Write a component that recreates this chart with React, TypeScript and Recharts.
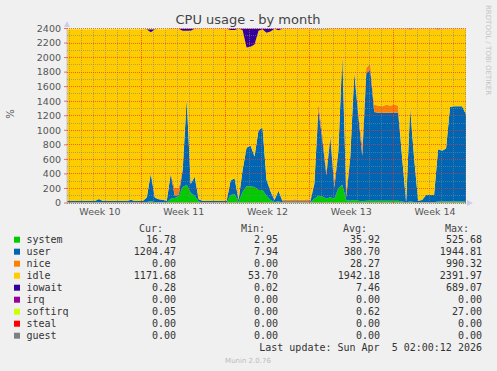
import React from 'react';
import { AreaChart, Area, XAxis, YAxis, ReferenceLine } from 'recharts';

// one sample every 8 hours, 101 samples over the month
const system = [
  8, 8, 8, 8, 8, 8, 8, 8, 10, 8, 8, 8, 8, 8, 8, 8, 8, 8, 8, 8,
  15, 25, 15, 10, 10, 8, 60, 70, 90, 220, 250, 140, 100, 20, 8, 8, 8, 8, 8, 8,
  8, 110, 120, 15, 150, 230, 230, 220, 180, 180, 100, 40, 15, 20, 10, 10, 10, 10, 10, 10,
  10, 10, 60, 100, 90, 60, 80, 60, 200, 250, 40, 30, 40, 30, 25, 30, 30, 30, 30, 30,
  30, 30, 30, 30, 20, 10, 20, 15, 10, 10, 10, 10, 10, 20, 20, 20, 20, 20, 20, 20,
  17,
];
const user = [
  20, 20, 20, 20, 20, 20, 20, 20, 45, 20, 20, 20, 20, 20, 20, 20, 35, 20, 20, 20,
  60, 380, 60, 40, 35, 20, 340, 30, 20, 230, 1180, 120, 260, 30, 20, 20, 20, 20, 20, 20,
  20, 200, 220, 25, 300, 530, 560, 420, 820, 860, 220, 120, 25, 150, 15, 15, 15, 15, 15, 15,
  15, 15, 200, 1180, 780, 320, 820, 150, 500, 1780, 40, 600, 1740, 1180, 620, 1750, 1800, 1220, 1210, 1210,
  1210, 1210, 1210, 1210, 600, 5, 1290, 600, 20, 30, 100, 100, 100, 720, 700, 730, 1300, 1310, 1310, 1310,
  1204,
];
const nice = [
  0, 0, 0, 0, 0, 0, 0, 0, 0, 0, 0, 0, 0, 0, 0, 0, 0, 0, 0, 0,
  0, 0, 0, 0, 0, 0, 10, 110, 100, 30, 10, 5, 0, 0, 0, 0, 0, 0, 0, 0,
  0, 0, 0, 0, 0, 0, 0, 0, 0, 0, 0, 0, 0, 0, 15, 20, 15, 25, 20, 15,
  25, 20, 20, 100, 100, 60, 40, 100, 20, 20, 100, 30, 30, 60, 150, 80, 90, 100, 100, 90,
  110, 100, 110, 100, 0, 0, 0, 0, 0, 0, 0, 0, 0, 0, 0, 0, 0, 0, 0, 0,
  0,
];
const idle = [
  2360, 2360, 2360, 2360, 2360, 2360, 2360, 2360, 2333, 2360, 2360, 2360, 2360, 2360, 2360, 2360, 2345, 2360, 2360, 2360,
  2310, 1945, 2310, 2338, 2343, 2360, 1985, 2185, 2185, 1890, 930, 2105, 2035, 2348, 2370, 2370, 2370, 2370, 2370, 2370,
  2370, 2070, 2040, 2358, 1930, 1380, 1360, 1540, 1370, 1350, 2020, 2200, 2355, 2205, 2358, 2353, 2358, 2348, 2353, 2358,
  2348, 2353, 2105, 1005, 1415, 1945, 1455, 2085, 1675, 345, 2215, 1735, 585, 1125, 1600, 535, 475, 1045, 1055, 1065,
  1045, 1055, 1045, 1055, 1775, 2383, 1080, 1780, 2368, 2358, 2288, 2288, 2288, 1650, 1678, 1648, 1078, 1068, 1068, 1068,
  1172,
];
const iowait = [
  2, 2, 2, 2, 2, 2, 2, 2, 2, 2, 2, 2, 2, 2, 2, 2, 2, 2, 2, 2,
  5, 40, 5, 2, 2, 2, 5, 5, 5, 30, 30, 30, 5, 2, 2, 2, 2, 2, 2, 2,
  2, 20, 20, 2, 20, 260, 250, 220, 30, 10, 60, 40, 5, 25, 2, 2, 2, 2, 2, 2,
  2, 2, 5, 5, 5, 5, 5, 5, 5, 5, 5, 5, 5, 5, 5, 5, 5, 5, 5, 5,
  5, 5, 5, 5, 5, 2, 10, 5, 2, 2, 2, 2, 2, 10, 2, 2, 2, 2, 2, 2,
  0,
];
const softirq = [
  10, 10, 10, 10, 10, 10, 10, 10, 10, 10, 10, 10, 10, 10, 10, 10, 10, 10, 10, 10,
  10, 10, 10, 10, 10, 10, 0, 0, 0, 0, 0, 0, 0, 0, 0, 0, 0, 0, 0, 0,
  0, 0, 0, 0, 0, 0, 0, 0, 0, 0, 0, 0, 0, 0, 0, 0, 0, 0, 0, 0,
  0, 0, 10, 10, 10, 10, 0, 0, 0, 0, 0, 0, 0, 0, 0, 0, 0, 0, 0, 0,
  0, 0, 0, 0, 0, 0, 0, 0, 0, 0, 0, 0, 0, 0, 0, 0, 0, 0, 0, 0,
  0,
];

const weekTicks = [8.25, 29.25, 50.25, 71.25, 92.25];
const weekLabels = ['Week 10', 'Week 11', 'Week 12', 'Week 13', 'Week 14'];
const weekLines = [18.75, 39.75, 60.75, 81.75];
const dayLines = [
  0.75, 3.75, 6.75, 9.75, 12.75, 15.75, 21.75, 24.75, 27.75, 30.75, 33.75, 36.75,
  42.75, 45.75, 48.75, 51.75, 54.75, 57.75, 63.75, 66.75, 69.75, 72.75, 75.75, 78.75,
  84.75, 87.75, 90.75, 93.75, 96.75, 99.75,
];
const yTicks = [0, 200, 400, 600, 800, 1000, 1200, 1400, 1600, 1800, 2000, 2200, 2400];
const yMinor = [100, 300, 500, 700, 900, 1100, 1300, 1500, 1700, 1900, 2100, 2300];

const legendNames = ['system', 'user', 'nice', 'idle', 'iowait', 'irq', 'softirq', 'steal', 'guest'];
const legendColors = ['#00cc00', '#0066b3', '#ff8000', '#ffcc00', '#330099', '#990099', '#ccff00', '#ff0000', '#808080'];
const curValues = ['16.78', '1204.47', '0.00', '1171.68', '0.28', '0.00', '0.05', '0.00', '0.00'];
const minValues = ['2.95', '7.94', '0.00', '53.70', '0.02', '0.00', '0.00', '0.00', '0.00'];
const avgValues = ['35.92', '380.70', '28.27', '1942.18', '7.46', '0.00', '0.62', '0.00', '0.00'];
const maxValues = ['525.68', '1944.81', '990.32', '2391.97', '689.07', '0.00', '27.00', '0.00', '0.00'];

const data = system.map((s, i) => ({
  i,
  system: s,
  user: user[i],
  nice: nice[i],
  idle: idle[i],
  iowait: iowait[i],
  softirq: softirq[i],
}));

const W = 497;
const H = 371;
const mono = '"DejaVu Sans Mono", monospace';
const sans = '"DejaVu Sans", sans-serif';
const minorGrid = 'rgba(130,130,130,0.6)';
const majorGrid = 'rgba(240,50,40,0.7)';

const App: React.FC = () => {
  const cols = [
    { head: 'Cur:', x: 176, vals: curValues },
    { head: 'Min:', x: 278, vals: minValues },
    { head: 'Avg:', x: 380, vals: avgValues },
    { head: 'Max:', x: 482, vals: maxValues },
  ];
  return (
    <div style={{ position: 'absolute', left: 0, top: 0, width: W, height: H, background: '#f0f0f0', fontFamily: sans }}>
      <AreaChart width={W} height={H} data={data} margin={{ top: 28.5, right: 31, bottom: 138, left: 7 }}>
        <XAxis
          dataKey="i"
          type="number"
          domain={[0, 100]}
          ticks={weekTicks}
          tickFormatter={(v) => weekLabels[weekTicks.indexOf(v)]}
          tickLine={false}
          tickSize={3}
          tickMargin={2}
          axisLine={{ stroke: '#c8c8d8' }}
          tick={{ fontSize: 9.5, fill: '#555', fontFamily: sans }}
        />
        <YAxis
          type="number"
          domain={[0, 2400]}
          ticks={yTicks}
          interval={0}
          allowDataOverflow
          width={60}
          tickSize={3}
          tickMargin={3}
          tickLine={{ stroke: majorGrid }}
          axisLine={{ stroke: '#c8c8d8' }}
          tick={{ fontSize: 9.5, fill: '#555', fontFamily: sans }}
        />
        <Area type="linear" dataKey="system" stackId="cpu" stroke="none" fill="#00cc00" fillOpacity={1} isAnimationActive={false} />
        <Area type="linear" dataKey="user" stackId="cpu" stroke="none" fill="#0066b3" fillOpacity={1} isAnimationActive={false} />
        <Area type="linear" dataKey="nice" stackId="cpu" stroke="none" fill="#ff8000" fillOpacity={1} isAnimationActive={false} />
        <Area type="linear" dataKey="idle" stackId="cpu" stroke="none" fill="#ffcc00" fillOpacity={1} isAnimationActive={false} />
        <Area type="linear" dataKey="iowait" stackId="cpu" stroke="none" fill="#330099" fillOpacity={1} isAnimationActive={false} />
        <Area type="linear" dataKey="softirq" stackId="cpu" stroke="none" fill="#ccff00" fillOpacity={1} isAnimationActive={false} />
      </AreaChart>
      {/* rrdtool draws its grid over the data, so the grid lives in a second, transparent chart on top */}
      <div style={{ position: 'absolute', left: 0, top: 0, pointerEvents: 'none' }}>
        <AreaChart width={W} height={H} data={data} margin={{ top: 28.5, right: 31, bottom: 168, left: 67 }}>
          <XAxis dataKey="i" type="number" domain={[0, 100]} hide />
          <YAxis type="number" domain={[0, 2400]} hide />
          <Area type="linear" dataKey="system" stroke="none" fill="none" isAnimationActive={false} />
          {yMinor.map((v) => (
            <ReferenceLine key={'ym' + v} y={v} stroke={minorGrid} strokeWidth={1} strokeDasharray="1 1" shapeRendering="crispEdges" />
          ))}
          {dayLines.map((v) => (
            <ReferenceLine key={'xd' + v} x={v} stroke={minorGrid} strokeWidth={1} strokeDasharray="1 1" shapeRendering="crispEdges" />
          ))}
          {yTicks.map((v) => (
            <ReferenceLine key={'yM' + v} y={v} stroke={majorGrid} strokeWidth={1} strokeDasharray="1 1" shapeRendering="crispEdges" />
          ))}
          {weekLines.map((v) => (
            <ReferenceLine key={'xw' + v} x={v} stroke={majorGrid} strokeWidth={1} strokeDasharray="1 1" shapeRendering="crispEdges" />
          ))}
        </AreaChart>
      </div>
      <svg width={W} height={H} style={{ position: 'absolute', left: 0, top: 0, pointerEvents: 'none' }}>
        <text x={248} y={24} textAnchor="middle" fontSize={13} fill="#444" fontFamily={sans}>
          CPU usage - by month
        </text>
        <text x={14} y={114} textAnchor="middle" fontSize={10} fill="#555" fontFamily={sans} transform="rotate(-90 14 114)">
          %
        </text>
        <text x={486} y={5} fontSize={7} fill="#c4c4c4" fontFamily={sans} transform="rotate(90 486 5)">
          RRDTOOL / TOBI OETIKER
        </text>
        <polygon points="64,27 70,27 67,21" fill="#ccccee" />
        <polygon points="467,200 467,206 473,203" fill="#ccccee" />
        {cols.map((c) => (
          <text key={c.head} x={c.x - 13} y={231.5} textAnchor="end" fontSize={10} fill="#444" fontFamily={mono}>
            {c.head}
          </text>
        ))}
        {legendNames.map((name, r) => {
          const cy = 239.7 + r * 12;
          return (
            <g key={name}>
              <rect x={14} y={cy - 3} width={6} height={6} fill={legendColors[r]} />
              <text x={26.5} y={cy + 3.5} fontSize={10} fill="#333" fontFamily={mono}>
                {name}
              </text>
              {cols.map((c) => (
                <text key={c.head} x={c.x} y={cy + 3.5} textAnchor="end" fontSize={10} fill="#333" fontFamily={mono}>
                  {c.vals[r]}
                </text>
              ))}
            </g>
          );
        })}
        <text x={482} y={351} textAnchor="end" fontSize={10} fill="#333" fontFamily={mono} style={{ whiteSpace: 'pre' }}>
          {'Last update: Sun Apr  5 02:00:12 2026'}
        </text>
        <text x={248} y={363} textAnchor="middle" fontSize={7} fill="#bbbbbb" fontFamily={sans}>
          Munin 2.0.76
        </text>
      </svg>
    </div>
  );
};

export default App;
